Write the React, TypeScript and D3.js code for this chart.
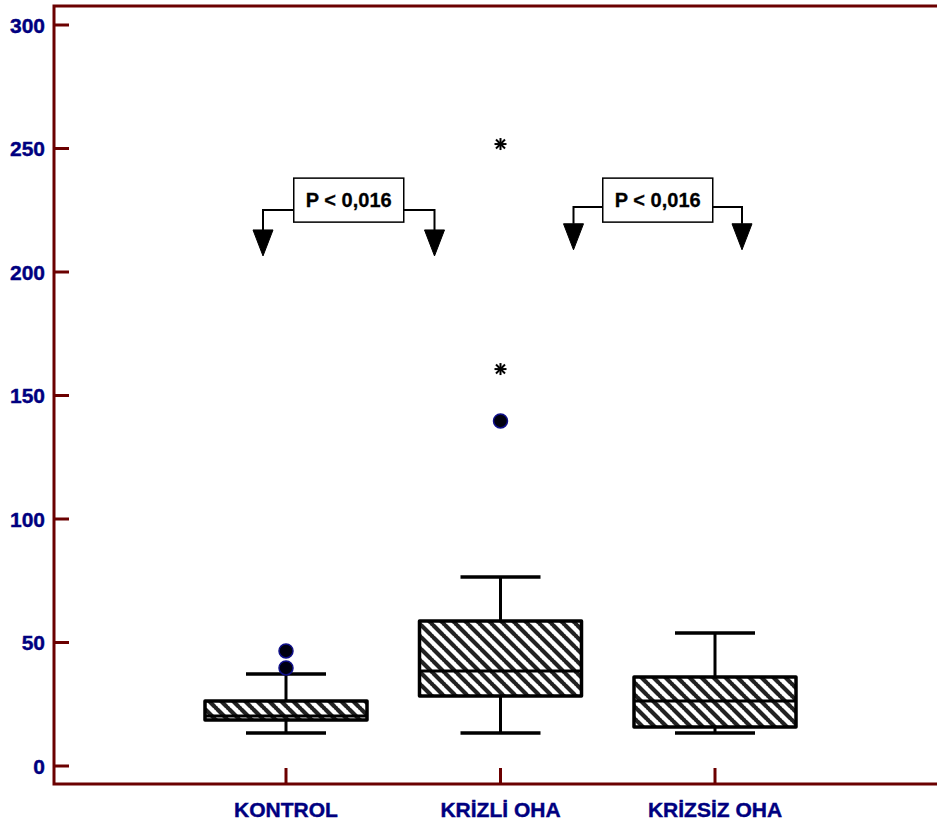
import React from "react";
import { scaleLinear, scalePoint } from "d3";

// box plot values
const categories = ["KONTROL", "KRİZLİ OHA", "KRİZSİZ OHA"];
const whiskerLow = [13.4, 13.4, 13.4];
const q1 = [18.6, 28.3, 15.8];
const median = [20.2, 38.5, 26.3];
const q3 = [26.3, 58.7, 36];
const whiskerHigh = [37.2, 76.5, 53.8];

const outlierCats = ["KONTROL", "KONTROL", "KRİZLİ OHA"];
const outlierValues = [46.6, 39.7, 139.7];
const extremeCats = ["KRİZLİ OHA", "KRİZLİ OHA"];
const extremeValues = [160.7, 251.8];

const yTicks = [0, 50, 100, 150, 200, 250, 300];

// significance brackets
const annotations = [
  { label: "P < 0,016", from: "KONTROL", fromOff: -23, to: "KRİZLİ OHA", toOff: -66, level: 225.1, tip: 206.5, boxMid: 229.1 },
  { label: "P < 0,016", from: "KRİZLİ OHA", fromOff: 73, to: "KRİZSİZ OHA", toOff: 27, level: 226.3, tip: 209, boxMid: 229.1 },
];

const W = 937;
const H = 828;
const axisColor = "#6b0000";
const labelColor = "#000080";
const font = "'Liberation Sans', Arial, sans-serif";

const App = () => {
  const left = 54;
  const top = 6;
  const bottom = 784;

  const y = scaleLinear().domain([0, 300]).range([766, 25]);
  const x = scalePoint().domain(categories).range([286, 715]);

  const boxHalf = 81;
  const capHalf = 40;

  const arrow = (cx, tipY) =>
    `M${cx - 10},${tipY - 26} L${cx + 10},${tipY - 26} L${cx},${tipY} Z`;

  return (
    <div style={{ position: "absolute", left: 0, top: 0 }}>
      <svg width={W} height={H} style={{ display: "block" }}>
        <defs>
          <pattern id="hatch" patternUnits="userSpaceOnUse" width={12} height={12}>
            <path
              d="M-1,-1 L13,13 M-1,11 L1,13 M11,-1 L13,1"
              stroke="#222"
              strokeWidth={4.2}
            />
          </pattern>
        </defs>
        <rect width={W} height={H} fill="#fff" />

        {/* frame */}
        <path
          d={`M${W},${top} L${left},${top} L${left},${bottom} L${W},${bottom}`}
          fill="none"
          stroke={axisColor}
          strokeWidth={3}
        />

        {/* y axis */}
        {yTicks.map((t) => (
          <g key={t}>
            <line x1={left} x2={left + 15} y1={y(t)} y2={y(t)} stroke={axisColor} strokeWidth={3} />
            <text
              x={45}
              y={y(t)}
              dy="0.36em"
              textAnchor="end"
              fontFamily={font}
              fontWeight="bold"
              fontSize={21}
              fill={labelColor}
              stroke={labelColor}
              strokeWidth={0.4}
            >
              {t}
            </text>
          </g>
        ))}

        {/* x axis */}
        {categories.map((c) => (
          <g key={c}>
            <line x1={x(c)} x2={x(c)} y1={bottom} y2={bottom - 16} stroke={axisColor} strokeWidth={3} />
            <text
              x={x(c)}
              y={817}
              textAnchor="middle"
              fontFamily={font}
              fontWeight="bold"
              fontSize={21}
              fill={labelColor}
              stroke={labelColor}
              strokeWidth={0.4}
            >
              {c}
            </text>
          </g>
        ))}

        {/* boxes */}
        {categories.map((c, i) => {
          const cx = x(c);
          return (
            <g key={c} stroke="#000">
              <line x1={cx} x2={cx} y1={y(whiskerHigh[i])} y2={y(q3[i])} strokeWidth={3} />
              <line x1={cx} x2={cx} y1={y(q1[i])} y2={y(whiskerLow[i])} strokeWidth={3} />
              <line x1={cx - capHalf} x2={cx + capHalf} y1={y(whiskerHigh[i])} y2={y(whiskerHigh[i])} strokeWidth={3.5} />
              <line x1={cx - capHalf} x2={cx + capHalf} y1={y(whiskerLow[i])} y2={y(whiskerLow[i])} strokeWidth={3.5} />
              <rect
                x={cx - boxHalf}
                y={y(q3[i])}
                width={boxHalf * 2}
                height={y(q1[i]) - y(q3[i])}
                fill="#fff"
                stroke="none"
              />
              <rect
                x={cx - boxHalf}
                y={y(q3[i])}
                width={boxHalf * 2}
                height={y(q1[i]) - y(q3[i])}
                fill="url(#hatch)"
                strokeWidth={3.5}
                strokeLinejoin="round"
              />
              <line x1={cx - boxHalf} x2={cx + boxHalf} y1={y(median[i])} y2={y(median[i])} strokeWidth={3} />
            </g>
          );
        })}

        {/* outliers */}
        {outlierValues.map((v, i) => (
          <circle
            key={"o" + i}
            cx={x(outlierCats[i])}
            cy={y(v)}
            r={7}
            fill="#000010"
            stroke="#10108a"
            strokeWidth={1.5}
          />
        ))}
        {extremeValues.map((v, i) => {
          const cx = x(extremeCats[i]);
          const cy = y(v);
          const s = 6;
          return (
            <g key={"e" + i} stroke="#000" strokeWidth={2}>
              <line x1={cx} x2={cx} y1={cy - s} y2={cy + s} />
              <line x1={cx - s} x2={cx + s} y1={cy} y2={cy} />
              <line x1={cx - s * 0.75} x2={cx + s * 0.75} y1={cy - s * 0.75} y2={cy + s * 0.75} />
              <line x1={cx - s * 0.75} x2={cx + s * 0.75} y1={cy + s * 0.75} y2={cy - s * 0.75} />
            </g>
          );
        })}

        {/* significance annotations */}
        {annotations.map((a, i) => {
          const x1 = x(a.from) + a.fromOff;
          const x2 = x(a.to) + a.toOff;
          const mid = (x1 + x2) / 2;
          const ly = y(a.level);
          const ty = y(a.tip);
          const by = y(a.boxMid);
          return (
            <g key={"a" + i}>
              <path
                d={`M${x1},${ty - 26} L${x1},${ly} L${x2},${ly} L${x2},${ty - 26}`}
                fill="none"
                stroke="#000"
                strokeWidth={2}
              />
              <path d={arrow(x1, ty)} fill="#000" stroke="#000" strokeWidth={1} />
              <path d={arrow(x2, ty)} fill="#000" stroke="#000" strokeWidth={1} />
              <rect x={mid - 55} y={by - 22} width={110} height={44} fill="#fff" stroke="#000" strokeWidth={1.5} />
              <text
                x={mid}
                y={by}
                dy="0.36em"
                textAnchor="middle"
                fontFamily={font}
                fontWeight="bold"
                fontSize={20}
                fill="#000"
                stroke="#000"
                strokeWidth={0.3}
              >
                {a.label}
              </text>
            </g>
          );
        })}
      </svg>
    </div>
  );
};

export default App;
